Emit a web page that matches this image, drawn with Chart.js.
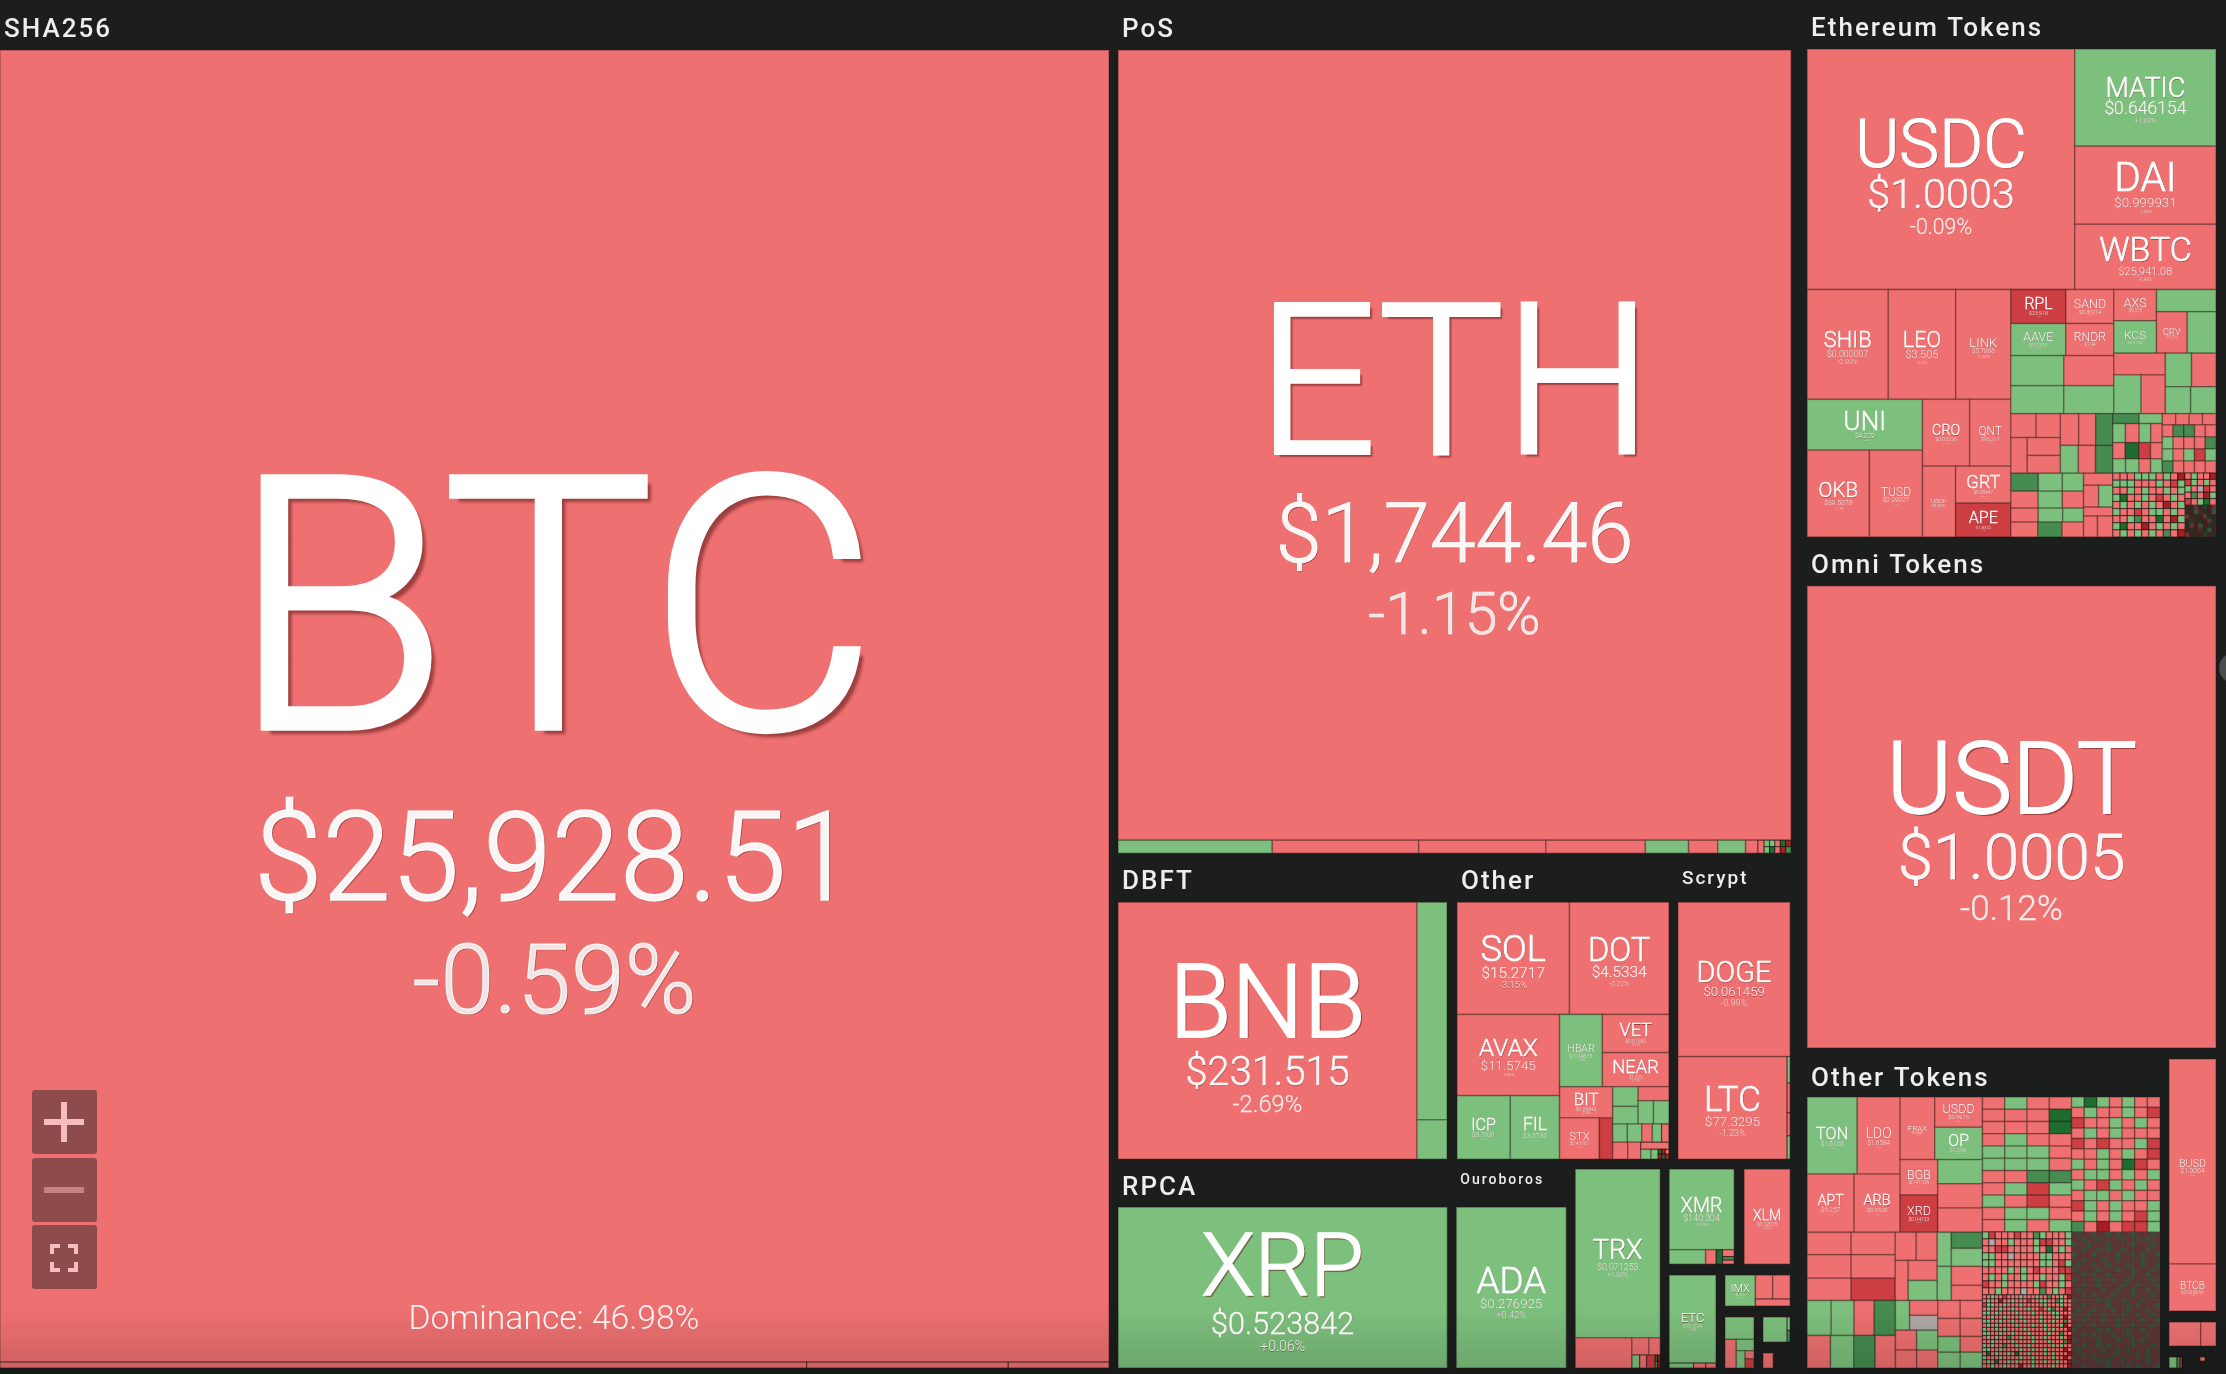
<!DOCTYPE html>
<html>
  <head>
    <style>
      html, body { margin: 0; background: #1c1e1e; }
      canvas { display: block; }
    </style>
  </head>
  <body>
    <canvas id="map" width="2226" height="1374"></canvas>

    <script src="https://cdn.jsdelivr.net/npm/chart.js"></script>
    <script>
      // coins that carry a label
      const coinSymbols = ['BTC','ETH','USDT','BNB','XRP','USDC','ADA','DOGE','SOL','TRX','DOT','MATIC','LTC','WBTC','DAI','BUSD','SHIB','AVAX','LEO','LINK','XMR','UNI','XLM','OKB','TUSD','ETC','HBAR','VET','NEAR','ICP','FIL','BIT','STX','CRO','QNT','USDP','GRT','APE','RPL','SAND','AXS','AAVE','RNDR','KCS','CRV','TON','LDO','APT','ARB','FRAX','USDD','OP','BGB','XRD','IMX','BTCB'];
      const coinPrices = ['$25,928.51','$1,744.46','$1.0005','$231.515','$0.523842','$1.0003','$0.276925','$0.061459','$15.2717','$0.071253','$4.5334','$0.646154','$77.3295','$25,941.08','$0.999931','$1.0004','$0.000007','$11.5745','$3.505','$5.7866','$140.304','$4.279','$0.12025','$39.5078','$0.99927','$15.1704','$0.04875','$0.01582','$1.025','$3.7631','$3.5732','$0.36842','$0.45161','$0.05226','$95.217','$0.9991','$0.08947','$1.8432','$23.918','$0.30214','$5.375','$57.812','$1.94','$4.4125','$0.4716','$1.5128','$1.6584','$6.257','$0.9528','$0.9985','$0.9975','$1.3742','$0.41529','$0.04123','$0.5731','$25,938.96'];
      const coinChanges = [-0.59,-1.15,-0.12,-2.69,0.06,-0.09,0.42,-0.99,-3.15,1.62,-0.22,1.69,-1.23,-0.43,-0.08,-0.1,-0.93,-0.86,-0.32,-0.32,0.38,0.37,-0.6,-1.11,-0.2,1.2,0.85,-0.41,-0.75,0.62,0.44,-0.9,-0.71,-0.52,-0.33,-0.15,-0.8,-5.4,-5.3,-1.4,-1.1,0.9,-1.2,0.7,-0.6,1.3,-1.5,-1.1,-0.9,-0.2,-0.3,0.8,-0.7,-5.8,0.6,-0.55];
      const coinCaps = [14550,5317,1890,766,530,643,177,175,126.6,143,112,137,113,92,110,96,89,83.6,74,60.5,52,58.6,130,54,46,41,31,25.5,22.8,33.9,31.4,16.6,16.4,31.5,27.5,23.4,20.4,18.7,18.7,16.3,13.3,17.6,15.4,13.8,12.7,38.5,33,27.3,26.7,21.7,14.4,15.4,13.3,14,9.3,22];

      // market cap share of each block on the map
      const groupNames = ['SHA256','PoS','DBFT','Other','Scrypt','RPCA','Ouroboros','Tron','Monero','Stellar','Classic','Immutable','Small A','Small B','Small C','Ethereum Tokens','Omni Tokens','Other Tokens','Binance','Stable B','Stable C','Stable D'];
      const groupCaps = [1531,588,103.4,67.6,38.6,71,25.2,19.5,7.84,6.36,5.8,3.2,2.33,1.48,1.11,233.1,218.2,115.7,16.06,2.23,0.572,0.792];

      // how the blocks nest
      const groupTree = ['h', 'SHA256',
        ['v', 'PoS',
          ['h', 'DBFT', 'Other', 'Scrypt'],
          ['h', 'RPCA', 'Ouroboros', 'Tron',
            ['v', ['h', 'Monero', 'Stellar'],
              ['h', 'Classic', ['v', 'Immutable', ['h', ['v', 'Small A'], ['v', 'Small B', 'Small C']]]]]]],
        ['v', 'Ethereum Tokens', 'Omni Tokens',
          ['h', 'Other Tokens', ['v', 'Binance', 'Stable B', ['h', 'Stable C', 'Stable D']]]]];

      // one letter per small coin: r g plain, R G strong, K D very strong, s flat
      const letterChanges = { r: -1, g: 1, R: -6, G: 6, K: -12, D: 12, s: 0 };

      const posStrip = 'ggrDKgDrKG';
      const ethCells = [
        'rrrgggrgrK', 'gggrrrgrRg', 'rrgrgrrgrg', 'gDrrgrRrgr', 'rgrgrgrKrg',
        'grrRrggrgr', 'rrgGrrDrKg', 'gDrrKrgrgr', 'rgrgrgrGrK',
      ].join('');
      const ethUpper = ['rgrrK', 'Rgrgr', 'grsRr', 'rGrKg', 'RrgDr'].join('');
      const ethDust = ['KDrKGKr', 'DKgRDKg', 'rKDKrDK', 'KGKDKrD', 'DrKgKDK', 'KDKRDgK', 'rKDKGKD'].join('');
      const otherMidTop = ['rgrr', 'rrrD', 'rrrD', 'rgrr', 'gggr', 'gggr', 'rrGG', 'rgRg', 'grRr', 'rggr', 'rgrg'].join('');
      const otherTopRight = [
        'gDgrgrr', 'rgrrgrR', 'Rrrgrgr', 'rgrgrrr', 'RrRrrgR', 'rrgrgrR', 'grgrDRr', 'rggrgrg',
        'grRgrgr', 'rggrgrr', 'Rgrgrrg', 'rgrgrRg', 'GrKrRRg',
      ].join('');
      const otherMidUpper = [
        'gRrrrRrrGgrrrg', 'rsrrgrrrgRRrrg', 'rrRRrrrrgrDrgr', 'ggrrsrrrrggrrr', 'ggrrrrrrrggrRg',
        'rrrrgrgrRrrrRR', 'rgrgrrgrrgrrgR', 'RrrgrrrrgRrrgr', 'rrgrrrsrrGrgrR',
      ].join('');
      const otherMidLower = [
        'rrgrrRrrrgrrrgrrGrrgrK', 'rgrrKrrgrrrRrrggrrGgrr', 'Rggrrgrrrgrrrrrgrrrgrr', 'rgrrgrrgrrrgrrRrgGrrKr',
        'ggrgrrrrgrrrgrrrrggrrr', 'rrgrrgrrrgrrrrgrrrgrKr', 'ggrrgrrgrrgrrrgrrgrrGr', 'rgrgrrrrgrrrgrrgrrrgKr',
        'grrgrgrrrrgrrrrgrgrrrK', 'ggrrgrrgrrrgrrrrgrrGrr', 'rsrgrrGrrgrrgrrgrrrgrK', 'rrgrrrrgrrrrgrrrgrrrGK',
        'grgrrGrrgrrgrrrrrgrgrr', 'ggrrgrrrrgrrgrrgrrrrKr', 'rDrgrrgrDrrgrrrgrgrrrK', 'grrrgrrrrgrrgrrrrgrrKr',
        'rgrDrrgrgrrrgrrgrrgrrK', 'rrgrrgrrrKrrgrrrrgrrrK',
      ].join('');
      const otherDust = [
        'rgrrgrrgrgrrgrrrgr', 'rrgrrgrrrrgrrgrgrr', 'grrgrrrgrrrrgrrrgr', 'rrgrrgrgrrgrrrrgrr',
        'grrrgrrrrgrrgrgrrg', 'rrgrrrgrrgrrrrgrrr', 'rgrrgrrgrrrgrrgrrg', 'grrrrgrrrgrrgrrrgr',
        'rrgrgrrgrrrrgrrgrr', 'grrrrgrrgrrgrrrrgr', 'rrgrrgrrrrgrrgrrrg', 'rgrrrrgrrgrrgrrgrr',
        'rrgrgrrrgrrrgrrrgr', 'grrrrgrgrrgrrrgrrr', 'rrgrrrrgrrrgrgrrrg', 'rgrrgrrrgrrgrrrgrr',
        'grrgrrgrrrgrrgrrgr', 'rrgrrrgrrgrrrrgrrg', 'rgrrgrrrrgrrgrrrgr', 'grrrrgrgrrrgrrgrrr',
        'rrgrgrrrgrrgrrrgrr', 'grrrrgrrrgrrgrgrrr', 'rrgrrgrgrrrrgrrrgr', 'rgrrrrgrrgrgrrrgrr',
        'rrgrgrrrgrrrrgrgrr', 'grrrrgrgrrgrrrrgrr', 'rrgrrrrgrrrgrgrrrg',
      ].join('');

      // tiles inside each block; [cap, change] is an unlabelled coin,
      // ['g', cap, columns, letters] a run of tiny ones and 'd' at the end marks the faint dust
      const sha256Tiles = ['v', 'BTC', ['h', [48, -0.4], [12, -0.7], [6, -0.5]]];
      const posTiles = ['v', 'ETH', ['h', [20, 0.9], [19, -0.6], [16.5, -0.4], [12.9, -0.8], [5.6, 0.5], [3.8, -1.2], [3.6, 0.7], [1.6, -0.9], [0.8, -0.3], ['g', 3.5, 5, posStrip]]];
      const dbftTiles = ['h', 'BNB', ['v', [65, 0.7], [11.7, 0.4]]];
      const otherTiles = ['v', ['h', 'SOL', 'DOT'],
        ['h',
          ['v', 'AVAX', ['h', 'ICP', 'FIL']],
          ['v',
            ['h', 'HBAR', ['v', 'VET', 'NEAR']],
            ['h',
              ['v', 'BIT', ['h', 'STX', [5.5, -6.5]]],
              ['v',
                ['h', ['v', [5, 0.8], [4.5, 0.6]], ['v', [4.3, -0.7], ['h', [3.6, 0.5], [3.6, 0.9]]]],
                ['h', [2.66, 0.8], [2.66, 0.6], [1.9, -0.5], [1.7, 0.4], [1.33, -0.9]],
                ['h', [2.55, -0.8], [2.2, -0.5], ['v', [2, -0.6], ['h', [1, 0.5], [0.7, 0.7], ['g', 1.06, 3, 'DKrKDK']]]],
              ]]]]];
      const scryptTiles = ['v', 'DOGE', ['h', 'LTC', ['v', [0.8, 0.7], [0.9, -0.5], [0.7, -0.4], [0.7, 0.5]]]];
      const tronTiles = ['v', 'TRX', ['h', [17, -0.8], ['v', ['h', [2.9, -0.6], [1.9, -0.4]], ['h', [1, 0.6], [0.9, -0.7], [1.1, -6.4], ['g', 0.65, 2, 'DKGK']]]]];
      const moneroTiles = ['v', 'XMR', ['h', [5.2, 0.7], [1.5, -0.6], [0.9, 12], ['v', [0.8, -0.9], [0.4, 6], [0.45, -0.5]]]];
      const classicTiles = ['v', 'ETC', ['h', [1.2, 0.6], [0.6, -0.4], [0.5, -0.8]]];
      const immutableTiles = ['h', 'IMX', ['v', ['h', [4.1, -0.7], [4.1, -0.5]], [2.4, -0.9]]];
      const smallATiles = ['v', [6.4, 0.6], ['h', [3.2, -0.7], ['v', [2, 0.5], ['h', [1.5, 0.8], ['v', [0.7, -0.6], [0.8, -6]]]]]];
      const smallBTiles = ['h', [6, 0.6], ['v', [0.4, 0.8], [0.35, 6]]];
      const smallCTiles = [1.5, -0.7];
      const binanceTiles = ['v', 'BUSD', 'BTCB'];
      const stableBTiles = ['h', [10, -0.4], [4.8, -0.6]];
      const stableCTiles = ['h', [0.8, 0.7], [0.3, 6], [0.2, -6]];
      const stableDTiles = [0.2, -0.9];

      const ethTiles = ['v',
        ['h', 'USDC', ['v', 'MATIC', 'DAI', 'WBTC']],
        ['h',
          ['v',
            ['h', 'SHIB', 'LEO', 'LINK'],
            ['h',
              ['v', 'UNI', ['h', 'OKB', 'TUSD']],
              ['v', ['h', 'CRO', 'QNT'], ['h', 'USDP', ['v', 'GRT', 'APE']]]]],
          ['v',
            ['h',
              ['v', ['h', 'RPL', 'SAND'], ['h', 'AAVE', 'RNDR'], ['h', [15.9, 0.8], [15, -0.7]], ['h', [14.8, 0.5], [14, 0.9]]],
              ['v',
                ['h', ['v', 'AXS', 'KCS'], ['v', [13.2, 0.7], ['h', 'CRV', [11.9, 0.6]]]],
                ['h',
                  ['v', [11.2, -0.8], ['h', [10.5, 0.7], [9.4, -0.6]]],
                  ['v', ['h', [8.8, 0.5], [8.2, -0.9]], ['h', [6.8, 0.6], [6.8, 0.8]]]]]],
            ['h',
              ['v',
                ['h',
                  ['v', ['h', [6, -0.7], [5.8, -0.5]], ['h', [5.8, -0.9], ['v', [5.9, -0.6], [5.9, -0.8]]]],
                  ['v', ['h', [5.8, -0.7], [5.4, -0.4], [5.4, 6.2]], ['h', [5, 0.6], [4.8, -0.9], [4.8, 6.4]]]],
                ['h',
                  ['v',
                    ['h', [4.9, 6.1], [4.3, 0.7], [3.8, 0.5]],
                    ['h', [4.6, -0.8], [4.1, 0.6], [3.6, -0.7]],
                    ['h', [3.8, -0.5], [3.4, 0.8], [2.9, 0.4]],
                    ['h', [4, -0.9], [3.6, 6.3], [3.2, -0.6]]],
                  ['v', [3.5, -0.6], ['h', [3.3, -0.8], [3.1, 0.6]], [2.6, -0.7], ['h', [2.9, -0.5], [3.2, -0.9]]]]],
              ['v',
                ['h',
                  ['v',
                    ['h', [2.6, 6], [2.3, 1]],
                    ['h', [2.4, 1], [2.6, -1], [2.2, 1], [2.2, -1]],
                    ['h', [2, -1], [2.2, 12], [1.9, -6], [1.9, -1]],
                    ['h', [1.8, 1], [1.9, 1], [1.65, -1], [1.65, 1]]],
                  ['v',
                    ['h', [1.5, -1], [1.5, -1], [1.5, -1], [1.5, -1]],
                    ['g', 25.8, 5, 'rGGrrgrrrGgrgRgGrrrr']]],
                ['h',
                  ['g', 46, 10, ethCells],
                  ['v', ['g', 9.9, 5, ethUpper], ['g', 9.9, 7, ethDust, 'd']]]]]]]];

      const otherTokenTiles = ['h',
        ['v',
          ['h',
            ['v', ['h', 'TON', 'LDO'], ['h', 'APT', 'ARB']],
            ['v',
              ['h', 'FRAX', ['v', 'USDD', 'OP']],
              ['h', ['v', 'BGB', 'XRD'], ['v', [10.8, 0.7], [10.8, -0.6], [10.8, -0.9]]]]],
          ['v',
            ['h',
              ['v', ['h', [9.9, -0.6], [9.9, -0.8]], ['h', [10.3, -0.5], [10.3, -0.7]], ['h', [9.8, -0.9], [9.8, -6.2]]],
              ['v', ['h', [5.9, -0.7], [5.9, -0.6]], ['h', [5.2, -0.8], ['v', [5.8, -0.5], [5.8, 0.7]]]],
              ['h', ['v', [4.8, 0.8], [4.8, 0.5]], ['v', [5, 6.2], [5.6, 0.6], [5.9, -0.7], [4.7, -0.8]]]],
            ['h',
              ['v', ['h', [8.4, 0.7], [8, 0.9], [7, -0.6], [7.4, 6.1]], ['h', [7.6, -0.8], [7.6, 0.6], [6.9, 6.3], [6.6, -0.9]]],
              ['v', ['h', [4.2, 0.7], ['v', [4.2, -0.7], [4.2, 0]]], ['h', [4.2, -0.6], [4.2, 0.5]], ['h', [3.8, -0.9], [3.8, -0.5]]],
              ['v', ['h', [4, -0.6], [4, -0.8]], ['h', [4, -0.7], [4, -0.5]], ['h', [3.5, 0.8], [3.5, -0.9]], ['h', [3.5, 0.6], [3.5, 0.7]]]]]],
        ['v',
          ['h', ['g', 120, 4, otherMidTop], ['g', 119, 7, otherTopRight]],
          ['h',
            ['v', ['g', 56, 14, otherMidUpper], ['g', 65, 22, otherMidLower]],
            ['g', 120, 18, otherDust, 'd']]]];

      const groupTiles = {
        'SHA256': sha256Tiles, 'PoS': posTiles, 'DBFT': dbftTiles, 'Other': otherTiles, 'Scrypt': scryptTiles,
        'RPCA': 'XRP', 'Ouroboros': 'ADA', 'Tron': tronTiles, 'Monero': moneroTiles, 'Stellar': 'XLM',
        'Classic': classicTiles, 'Immutable': immutableTiles, 'Small A': smallATiles, 'Small B': smallBTiles,
        'Small C': smallCTiles, 'Ethereum Tokens': ethTiles, 'Omni Tokens': 'USDT', 'Other Tokens': otherTokenTiles,
        'Binance': binanceTiles, 'Stable B': stableBTiles, 'Stable C': stableCTiles, 'Stable D': stableDTiles,
      };

      // ---- styling only from here on ----

      // padding round each block: top, right, bottom, left
      const groupFrames = {
        'SHA256': [50, 5, 6, 0], 'PoS': [50, 8, 5, 4], 'DBFT': [44, 5, 5, 4], 'Other': [44, 4, 5, 5], 'Scrypt': [44, 9, 5, 5],
        'RPCA': [43, 5, 6, 4], 'Ouroboros': [43, 6, 6, 4], 'Tron': [5, 5, 6, 3], 'Monero': [5, 5, 6, 4], 'Stellar': [5, 9, 6, 5],
        'Classic': [5, 5, 6, 4], 'Immutable': [5, 9, 5, 4], 'Small A': [6, 4, 6, 4], 'Small B': [6, 9, 5, 5], 'Small C': [6, 26, 6, 5],
        'Ethereum Tokens': [49, 10, 9, 8], 'Omni Tokens': [40, 10, 9, 8], 'Other Tokens': [40, 4, 6, 8],
        'Binance': [2, 10, 5, 5], 'Stable B': [6, 10, 6, 5], 'Stable C': [5, 8, 6, 5], 'Stable D': [5, 21, 13, 10],
      };

      // which blocks show a title: font size, x offset, baseline above the tiles
      const groupTitles = {
        'SHA256': [26, 4, 13], 'PoS': [26, 4, 13], 'Ethereum Tokens': [26, 4, 13], 'Omni Tokens': [26, 4, 13],
        'Other Tokens': [26, 4, 11], 'DBFT': [26, 4, 13], 'Other': [26, 4, 13], 'Scrypt': [19, 4, 18],
        'RPCA': [26, 4, 12], 'Ouroboros': [14, 4, 23],
      };

      // width in pixels of symbol, price and change text
      const labelWidths = {
        BTC: [620, 578, 273], ETH: [380, 344, 166], USDT: [241, 219, 99], BNB: [189, 158, 67], XRP: [156, 138, 43], USDC: [165, 142, 60],
        ADA: [67, 60, 29], TRX: [48, 40, 20], XMR: [40, 35, 13], XLM: [27, 20, 8], ETC: [23, 18, 8], IMX: [18, 10, 6], DOGE: [72, 59, 26],
        LTC: [55, 53, 26], SOL: [63, 61, 27], DOT: [60, 53, 19], AVAX: [57, 53, 11], HBAR: [26, 22, 8], VET: [31, 20, 8], NEAR: [45, 13, 8],
        ICP: [24, 23, 7], FIL: [23, 23, 7], BIT: [24, 20, 8], STX: [20, 19, 7], MATIC: [77, 79, 20], DAI: [60, 60, 12], WBTC: [89, 52, 13],
        SHIB: [46, 40, 20], LEO: [37, 32, 11], LINK: [27, 22, 12], UNI: [41, 19, 6], CRO: [27, 21, 7], QNT: [23, 18, 5], OKB: [38, 27, 10],
        TUSD: [29, 26, 5], USDP: [15, 15, 4], GRT: [33, 19, 5], APE: [28, 15, 4], RPL: [27, 18, 4], SAND: [31, 21, 5], AXS: [22, 13, 4],
        AAVE: [29, 18, 6], RNDR: [31, 11, 7], KCS: [21, 15, 3], CRV: [17, 10, 3], TON: [31, 22, 5], LDO: [25, 22, 5], APT: [25, 19, 5],
        ARB: [26, 20, 5], FRAX: [19, 11, 3], USDD: [31, 20, 6], OP: [20, 16, 6], BGB: [23, 20, 5], XRD: [23, 20, 6], BUSD: [26, 23, 6], BTCB: [24, 22, 6],
      };

      function tileColor(change) {
        if (change === 0) return '#b0a8a8';
        if (change >= 10) return '#1f6c30';
        if (change >= 5) return '#468c50';
        if (change > 0) return '#7dc07d';
        if (change <= -10) return '#a52024';
        if (change <= -5) return '#cc3e42';
        return '#ef7070';
      }

      function weight(node) {
        if (typeof node === 'string') return coinCaps[coinSymbols.indexOf(node)];
        if (node[0] === 'g') return node[1];
        if (node[0] === 'h' || node[0] === 'v') {
          return node.slice(1).reduce((sum, child) => sum + weight(child), 0);
        }
        return node[0];
      }

      function groupWeight(node) {
        if (typeof node === 'string') return groupCaps[groupNames.indexOf(node)];
        return node.slice(1).reduce((sum, child) => sum + groupWeight(child), 0);
      }

      function split(node, rect, weightOf, place) {
        const horizontal = node[0] === 'h';
        const children = node.slice(1);
        const total = children.reduce((sum, child) => sum + weightOf(child), 0);
        let at = horizontal ? rect.x0 : rect.y0;
        children.forEach((child) => {
          const share = weightOf(child) / total;
          const size = horizontal ? (rect.x1 - rect.x0) * share : (rect.y1 - rect.y0) * share;
          const part = horizontal
            ? { x0: at, x1: at + size, y0: rect.y0, y1: rect.y1 }
            : { x0: rect.x0, x1: rect.x1, y0: at, y1: at + size };
          at += size;
          place(child, part);
        });
      }

      function addTile(tiles, rect, change, symbol, dim) {
        tiles.push({
          x: (rect.x0 + rect.x1) / 2,
          y: (rect.y0 + rect.y1) / 2,
          x0: rect.x0, x1: rect.x1, y0: rect.y0, y1: rect.y1,
          change, symbol, dim,
        });
      }

      function placeTiles(node, rect, tiles) {
        if (typeof node === 'string') {
          addTile(tiles, rect, coinChanges[coinSymbols.indexOf(node)], node);
        } else if (node[0] === 'g') {
          const cols = node[2];
          const letters = node[3];
          const rows = Math.ceil(letters.length / cols);
          const w = (rect.x1 - rect.x0) / cols;
          const h = (rect.y1 - rect.y0) / rows;
          [...letters].forEach((letter, i) => {
            const x0 = rect.x0 + (i % cols) * w;
            const y0 = rect.y0 + Math.floor(i / cols) * h;
            addTile(tiles, { x0, x1: x0 + w, y0, y1: y0 + h }, letterChanges[letter], undefined, node[4] === 'd');
          });
        } else if (node[0] === 'h' || node[0] === 'v') {
          split(node, rect, weight, (child, part) => placeTiles(child, part, tiles));
        } else {
          addTile(tiles, rect, node[1]);
        }
      }

      const tiles = [];
      const titles = [];

      function placeGroups(node, rect) {
        if (typeof node === 'string') {
          const [top, right, bottom, left] = groupFrames[node];
          const inner = { x0: rect.x0 + left, x1: rect.x1 - right, y0: rect.y0 + top, y1: rect.y1 - bottom };
          if (groupTitles[node]) titles.push({ text: node, x: inner.x0, y: inner.y0, style: groupTitles[node] });
          placeTiles(groupTiles[node], inner, tiles);
        } else {
          split(node, rect, groupWeight, placeGroups);
        }
      }

      placeGroups(groupTree, { x0: 0, x1: 2226, y0: 0, y1: 1374 });

      class TileElement extends Chart.Element {
        static id = 'tileRect';
        static defaults = {};

        draw(ctx) {
          const small = Math.min(this.w, this.h);
          ctx.save();
          ctx.globalAlpha = this.dim ? 0.3 : 1;
          ctx.fillStyle = this.color;
          ctx.fillRect(this.left, this.top, this.w, this.h);
          ctx.globalAlpha = 1;
          if (!this.dim) {
            ctx.strokeStyle = small < 8 ? 'rgba(20,15,15,0.55)' : 'rgba(40,20,20,0.3)';
            ctx.lineWidth = small < 8 ? 1.1 : 1.6;
            ctx.strokeRect(this.left, this.top, this.w, this.h);
          }
          ctx.restore();
        }
      }

      class TileController extends Chart.DatasetController {
        static id = 'tile';
        static defaults = { dataElementType: 'tileRect' };

        update(mode) {
          const meta = this._cachedMeta;
          this.updateElements(meta.data, 0, meta.data.length, mode);
        }

        updateElements(elements, start, count) {
          const xScale = this._cachedMeta.xScale;
          const yScale = this._cachedMeta.yScale;
          const data = this.getDataset().data;
          for (let i = start; i < start + count; i++) {
            const tile = data[i];
            const left = xScale.getPixelForValue(tile.x0);
            const right = xScale.getPixelForValue(tile.x1);
            const top = yScale.getPixelForValue(tile.y0);
            const bottom = yScale.getPixelForValue(tile.y1);
            this.updateElement(elements[i], i, {
              x: (left + right) / 2,
              y: (top + bottom) / 2,
              left, top,
              w: right - left,
              h: bottom - top,
              color: tileColor(tile.change),
              dim: tile.dim,
            }, 'none');
          }
        }
      }

      Chart.register(TileElement, TileController);

      const FONT = 'Roboto, "Open Sans", sans-serif';
      const CAP = 0.71;

      function fitFont(ctx, text, width, weight) {
        ctx.font = `${weight} 100px ${FONT}`;
        return (100 * width) / ctx.measureText(text).width;
      }

      function changeText(change) {
        return `${change > 0 ? '+' : ''}${change.toFixed(2)}%`;
      }

      function drawLabel(ctx, el, symbol) {
        const i = coinSymbols.indexOf(symbol);
        const widths = labelWidths[symbol];
        if (!widths) return;
        const lines = [symbol, coinPrices[i], changeText(coinChanges[i])];
        const sizes = lines.map((text, n) => fitFont(ctx, text, widths[n] * 1.04, 300));
        const gap1 = sizes[0] * Math.min(0.24, 0.15 + 0.0005 * sizes[0]);
        const gap2 = sizes[1] * (sizes[1] > 65 ? 0.36 : 0.25);
        const total = (sizes[0] + sizes[1] + sizes[2]) * CAP + gap1 + gap2;
        let y = el.y + el.h * 0.03 - total / 2;
        const alphas = [1, 0.94, 0.85];
        const gaps = [gap1, gap2, 0];
        ctx.textAlign = 'center';
        ctx.textBaseline = 'alphabetic';
        lines.forEach((text, n) => {
          y += sizes[n] * CAP;
          ctx.font = `300 ${sizes[n]}px ${FONT}`;
          const colour = `rgba(255,255,255,${alphas[n]})`;
          ctx.fillStyle = colour;
          const drop = n === 0 ? sizes[0] * 0.018 : sizes[n] * 0.012;
          ctx.shadowColor = 'rgba(90,20,20,0.55)';
          ctx.shadowOffsetX = drop;
          ctx.shadowOffsetY = drop;
          ctx.shadowBlur = drop / 2;
          ctx.fillText(text, el.x, y);
          // Roboto has nothing between light and regular, so thicken the light cut a little
          if (sizes[n] > 14) {
            ctx.shadowColor = 'transparent';
            ctx.strokeStyle = colour;
            ctx.lineWidth = sizes[n] * (n === 0 ? 0.018 : 0.012);
            ctx.strokeText(text, el.x, y);
          }
          y += gaps[n];
        });
        ctx.shadowColor = 'transparent';
      }

      function drawControls(ctx) {
        const boxes = [1090, 1158, 1225];
        ctx.fillStyle = 'rgba(35,35,35,0.47)';
        boxes.forEach((top) => {
          ctx.beginPath();
          ctx.roundRect(32, top, 65, 64, 3);
          ctx.fill();
        });
        ctx.fillStyle = '#f7bcbc';
        ctx.fillRect(44, 1119, 40, 6);
        ctx.fillRect(61, 1102, 6, 40);
        ctx.fillStyle = 'rgba(247,188,188,0.5)';
        ctx.fillRect(44, 1187, 40, 6);
        ctx.strokeStyle = '#f7bcbc';
        ctx.lineWidth = 4;
        [[52, 1246, 1, 1], [76, 1246, -1, 1], [52, 1270, 1, -1], [76, 1270, -1, -1]].forEach(([x, y, dx, dy]) => {
          ctx.beginPath();
          ctx.moveTo(x, y + 8 * dy);
          ctx.lineTo(x, y);
          ctx.lineTo(x + 8 * dx, y);
          ctx.stroke();
        });
      }

      const mapDecor = {
        id: 'mapDecor',
        afterDatasetsDraw(chart) {
          const ctx = chart.ctx;
          ctx.save();

          // darker band along the bottom of the screen
          const fade = ctx.createLinearGradient(0, 1305, 0, 1368);
          fade.addColorStop(0, 'rgba(0,0,0,0)');
          fade.addColorStop(1, 'rgba(0,0,0,0.13)');
          ctx.fillStyle = fade;
          ctx.fillRect(0, 1305, 2226, 69);

          const meta = chart.getDatasetMeta(0);
          const data = chart.data.datasets[0].data;
          meta.data.forEach((el, i) => {
            if (data[i].symbol) drawLabel(ctx, el, data[i].symbol);
          });

          ctx.textAlign = 'left';
          ctx.textBaseline = 'alphabetic';
          ctx.fillStyle = '#eeeeee';
          ctx.letterSpacing = '2px';
          titles.forEach((title) => {
            const [size, dx, above] = title.style;
            ctx.font = `500 ${size}px ${FONT}`;
            ctx.fillText(title.text, title.x + dx, title.y - above);
          });
          ctx.letterSpacing = '0px';

          ctx.textAlign = 'center';
          const dominance = 'Dominance: 46.98%';
          ctx.font = `300 ${fitFont(ctx, dominance, 291, 300)}px ${FONT}`;
          ctx.fillStyle = 'rgba(255,255,255,0.9)';
          ctx.fillText(dominance, 554, 1329);

          // scrollbar thumb peeking in at the right edge
          ctx.fillStyle = '#4a4d4d';
          ctx.beginPath();
          ctx.arc(2234, 668, 15, 0, Math.PI * 2);
          ctx.fill();

          drawControls(ctx);
          ctx.restore();
        },
      };

      const config = {
        type: 'tile',
        data: {
          datasets: [{ label: 'Crypto market map', data: tiles }],
        },
        options: {
          responsive: false,
          animation: false,
          events: [],
          layout: { padding: 0 },
          scales: {
            x: { type: 'linear', min: 0, max: 2226, display: false },
            y: { type: 'linear', min: 0, max: 1374, reverse: true, display: false },
          },
          plugins: { legend: { display: false }, tooltip: { enabled: false } },
        },
        plugins: [mapDecor],
      };

      new Chart(document.getElementById('map'), config);
    </script>
  </body>
</html>
